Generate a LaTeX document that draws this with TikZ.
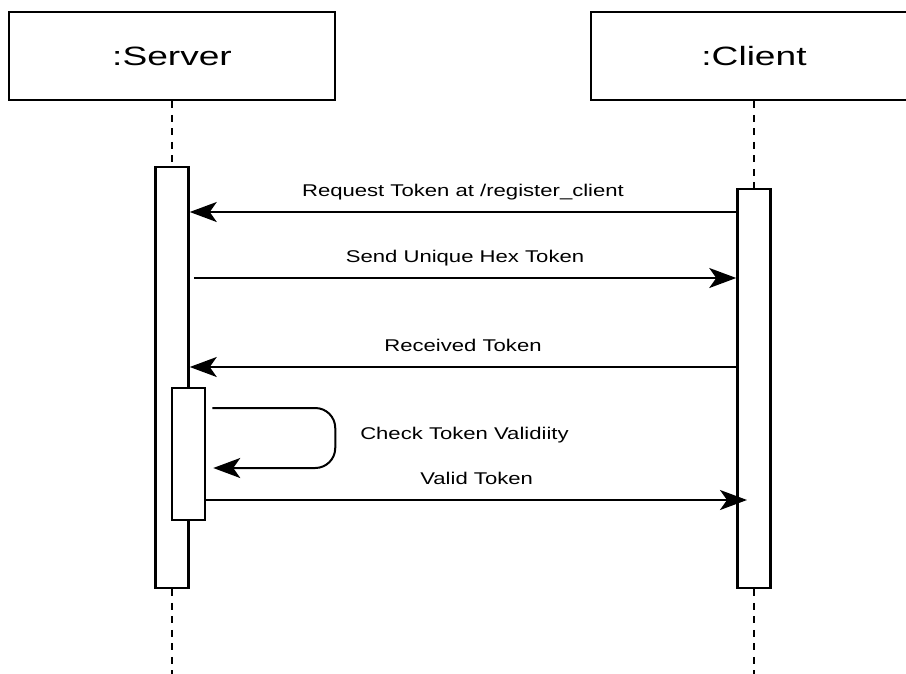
\documentclass[tikz,border=0pt]{standalone}
\usepackage{fontspec}
\newfontfamily\titlefont[FakeStretch=1.4]{Liberation Sans}
\newfontfamily\msgfont[FakeStretch=1.3]{Liberation Sans}
\usetikzlibrary{arrows.meta}
\begin{document}
\begin{tikzpicture}[
    x=1pt, y=-1pt,  % On travaille en pixels, y vers le bas
    % Boîtes des participants
    actor/.style={draw, line width=2.5pt, minimum width=326pt, minimum height=88pt,
        font=\titlefont\fontsize{26.5}{30}\selectfont},
    % Barres d'activation
    activation/.style={draw, line width=2.5pt, fill=white, minimum width=33pt, inner sep=0pt},
    lifeline/.style={line width=2.6pt, dash pattern=on 7pt off 6.5pt},
    msg/.style={line width=2pt, -{Stealth[length=27pt, width=20pt, inset=7pt]}},
    msglabel/.style={font=\msgfont\fontsize{17}{20}\selectfont, inner sep=0pt}
]
\clip (0,0) rectangle (906,673);
% Participants
\node[actor] (server) at (172,56) {:Server};
\node[actor] (client) at (754,56) {:Client};
\coordinate (serverEnd) at (172,680);
\coordinate (clientEnd) at (754,680);
% Lignes de vie
\node[activation, minimum height=421pt] (serverAct) at (172,377.5) {};
\node[activation, minimum height=399pt] (clientAct) at (754,388.5) {};
\draw[lifeline] (server) -- (serverAct);
\draw[lifeline] (client) -- (clientAct);
\draw[lifeline] (serverAct) -- (serverEnd);
\draw[lifeline] (clientAct) -- (clientEnd);
\node[activation, minimum height=132pt] (checkAct) at (188.5,454) {};
% Messages
\draw[msg] (clientAct.west |- 0,212) -- (serverAct.east |- 0,212)
    node[msglabel, midway, anchor=base, yshift=16pt] {Request Token at /register\_client};
\draw[msg] ([xshift=4pt]serverAct.east |- 0,278) -- (clientAct.west |- 0,278)
    node[msglabel, midway, anchor=base, yshift=16pt] {Send Unique Hex Token};
\draw[msg] (clientAct.west |- 0,367) -- (serverAct.east |- 0,367)
    node[msglabel, midway, anchor=base, yshift=16pt] {Received Token};
\draw[msg, rounded corners=20pt] ([xshift=6pt]checkAct.east |- 0,408) -- ++(123,0)
    -- node[msglabel, anchor=west, xshift=24pt, yshift=3pt] {Check Token Validiity} ++(0,60)
    -- ([xshift=7pt]checkAct.east |- 0,468);
\draw[msg] (checkAct.east |- 0,500) -- ([xshift=-7pt]clientAct.center |- 0,500)
    node[msglabel, midway, anchor=base, yshift=16pt] {Valid Token};
\end{tikzpicture}
\end{document}
